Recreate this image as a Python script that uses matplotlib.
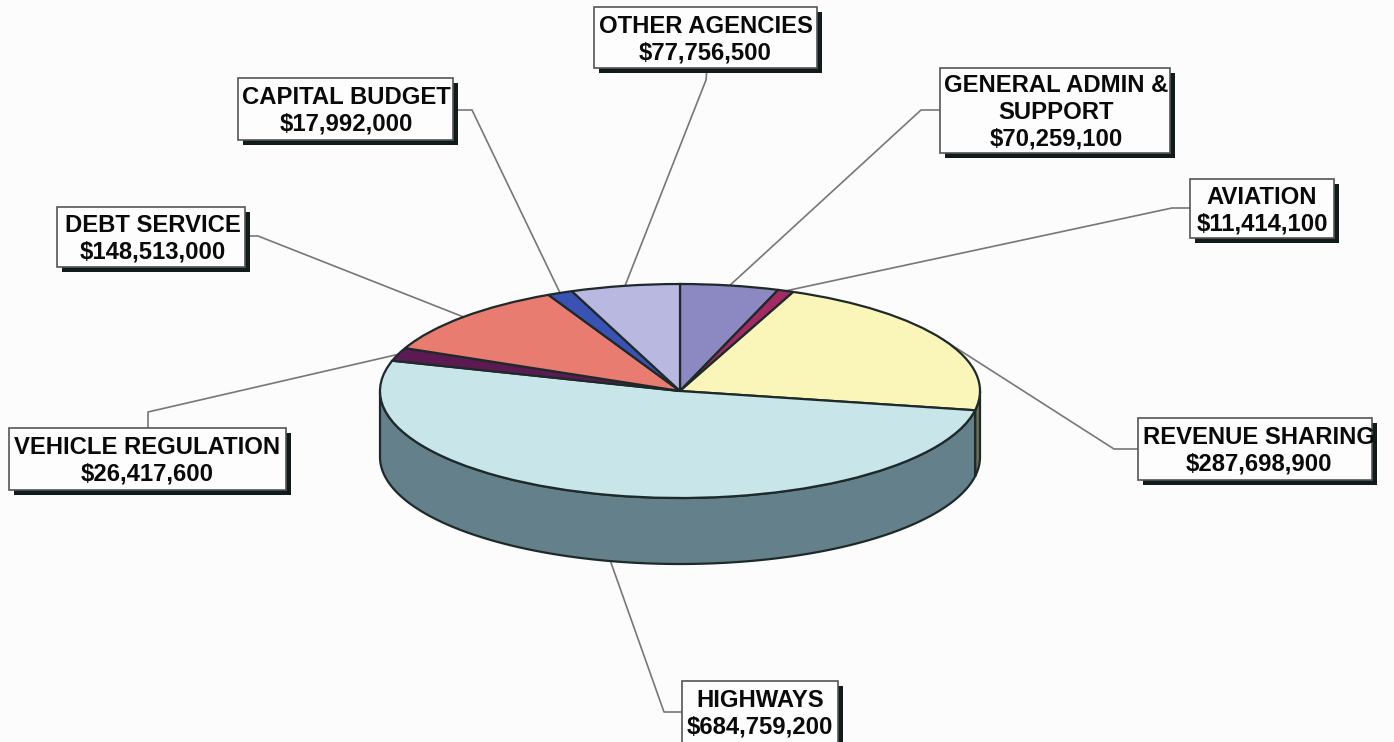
import numpy as np
import matplotlib
matplotlib.use('Agg')
import matplotlib.pyplot as plt
from matplotlib.patches import Rectangle
from matplotlib.transforms import Affine2D

# slices, clockwise from 12 o'clock
names = ['GENERAL ADMIN &\nSUPPORT', 'AVIATION', 'REVENUE SHARING', 'HIGHWAYS',
         'VEHICLE REGULATION', 'DEBT SERVICE', 'CAPITAL BUDGET', 'OTHER AGENCIES']
amounts = [70259100, 11414100, 287698900, 684759200,
           26417600, 148513000, 17992000, 77756500]

top_colors = ['#8C88C2', '#A32A62', '#FAF6BA', '#C8E6EA',
              '#5C1A52', '#E97C70', '#3A52B4', '#B8B8E0']
side_colors = ['#4A4868', '#5A1838', '#6E6E58', '#64808A',
               '#300E2C', '#7C4038', '#202C60', '#646478']

# label boxes in image pixels: left, top, right, bottom
boxes = [(940, 68, 1170, 153), (1190, 179, 1334, 238), (1138, 418, 1372, 480),
         (682, 681, 838, 760), (9, 428, 286, 490), (57, 207, 245, 267),
         (238, 78, 453, 140), (594, 7, 817, 68)]
# where each leader leaves its box, and its elbow
leader_start = [(940, 110), (1190, 208), (1138, 449), (682, 712),
                (148, 428), (245, 236), (454, 110), (707, 68)]
leader_elbow = [(921, 110), (1172, 208), (1114, 449), (664, 712),
                (148, 412), (258, 236), (472, 110), (706, 80)]
# text sits a little off centre in the scanned boxes
text_nudge = [1, 0, 4, 0, 0, 2, 1, 0]

cx, cy = 680, 391
rx, ry = 300, 107
depth = 66
ink = '#1E2A2A'

fig = plt.figure(figsize=(13.94, 7.42), dpi=100, facecolor='#FCFCFC')
ax = fig.add_axes([0, 0, 1, 1])

# flatten the pie into an ellipse, y runs downward in this axes
flat = Affine2D().scale(1, -ry / rx).translate(cx, cy) + ax.transData
wedges, _ = ax.pie(amounts, colors=top_colors, startangle=90, counterclock=False,
                   radius=rx, center=(0, 0),
                   wedgeprops=dict(transform=flat, edgecolor=ink, linewidth=1.6, zorder=3))
ax.set_aspect('auto')
ax.set_xlim(0, 1394)
ax.set_ylim(742, 0)
ax.axis('off')

# side wall, only the part of each slice that faces us
for w, col in zip(wedges, side_colors):
    t = np.radians(np.linspace(w.theta1, w.theta2, 400))
    t = t[np.sin(t) < 0]
    if len(t) == 0:
        continue
    xs = cx + rx * np.cos(t)
    ys = cy - ry * np.sin(t)
    ax.fill(np.r_[xs, xs[::-1]], np.r_[ys, ys[::-1] + depth], color=col,
            edgecolor=ink, linewidth=1.6, zorder=2)

# labels and leaders
for i, w in enumerate(wedges):
    mid = np.radians((w.theta1 + w.theta2) / 2)
    ex = cx + rx * np.cos(mid)
    ey = cy - ry * np.sin(mid)
    if names[i] == 'HIGHWAYS':
        ey += depth
    sx, sy = leader_start[i]
    bx, by = leader_elbow[i]
    ax.plot([sx, bx, ex], [sy, by, ey], color='#777777', lw=1.2, zorder=1)

    x0, y0, x1, y1 = boxes[i]
    ax.add_patch(Rectangle((x0 + 5, y0 + 5), x1 - x0, y1 - y0, facecolor='#101C1C',
                           edgecolor='none', zorder=4))
    ax.add_patch(Rectangle((x0, y0), x1 - x0, y1 - y0, facecolor='#FDFDFD',
                           edgecolor='#555555', linewidth=1.2, zorder=5))
    # text centre, the highways box runs off the bottom of the picture
    yc = 713.5 if names[i] == 'HIGHWAYS' else (y0 + y1) / 2 + 2
    ax.text((x0 + x1) / 2 + text_nudge[i], yc, names[i] + '\n${:,}'.format(amounts[i]),
            ha='center', va='center', family='Liberation Sans', weight='bold',
            fontsize=17.2, linespacing=1.2, color='#0A0A0A', zorder=6)

fig.savefig('out.png', dpi=100, facecolor=fig.get_facecolor())
